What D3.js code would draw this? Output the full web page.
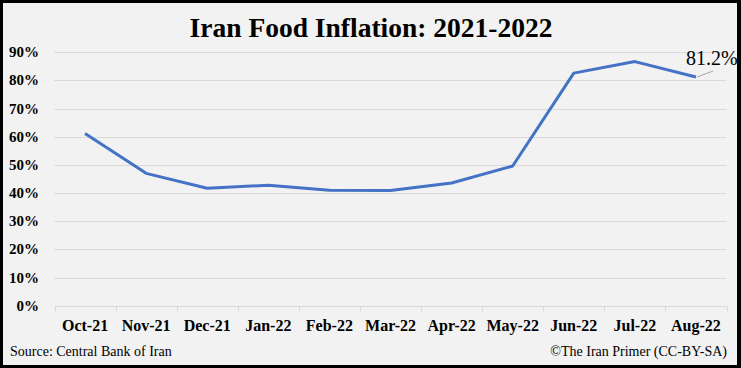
<!DOCTYPE html>
<html>
<head>
<meta charset="utf-8">
<script src="https://cdn.jsdelivr.net/npm/d3@7"></script>
<style>
  body { margin: 0; background: #fff; }
  svg { display: block; }
  text { font-family: "Liberation Serif", "DejaVu Serif", serif; }
</style>
</head>
<body>
<div id="chart"></div>
<script>
// Chart data
const months = ["Oct-21", "Nov-21", "Dec-21", "Jan-22", "Feb-22", "Mar-22", "Apr-22", "May-22", "Jun-22", "Jul-22", "Aug-22"];
const inflation = [61.2, 47.0, 41.7, 42.8, 41.0, 40.9, 43.6, 49.6, 82.6, 86.7, 81.2];
const yTicks = [0, 10, 20, 30, 40, 50, 60, 70, 80, 90];
const lastLabel = "81.2%";

const W = 741, H = 368;

const svg = d3.select("#chart").append("svg")
    .attr("width", W)
    .attr("height", H);

// background and frame
svg.append("rect")
    .attr("width", W).attr("height", H)
    .attr("fill", "#000");
svg.append("rect")
    .attr("x", 3).attr("y", 3)
    .attr("width", W - 3 - 4).attr("height", H - 3 - 3)
    .attr("fill", "#f2f2f2");

const x = d3.scaleBand()
    .domain(months)
    .range([54.5, 726.5]);

const y = d3.scaleLinear()
    .domain([0, 90])
    .range([305.7, 52.3]);

// gridlines
svg.append("g")
    .selectAll("line")
    .data(yTicks.filter(d => d > 0))
    .join("line")
    .attr("x1", 54.5).attr("x2", 726.5)
    .attr("y1", d => Math.round(y(d)) + 0.5)
    .attr("y2", d => Math.round(y(d)) + 0.5)
    .attr("stroke", "#d9d9d9")
    .attr("stroke-width", 1);

// y labels
svg.append("g")
    .selectAll("text")
    .data(yTicks)
    .join("text")
    .attr("x", 39)
    .attr("y", d => y(d) + 5)
    .attr("text-anchor", "end")
    .attr("font-size", 15)
    .attr("font-weight", "bold")
    .attr("fill", "#000")
    .text(d => d + "%");

// x axis
const xAxis = svg.append("g")
    .attr("transform", `translate(0,${Math.round(y(0)) + 0.5})`);
xAxis.append("line")
    .attr("x1", 54.5).attr("x2", 726.5)
    .attr("stroke", "#d9d9d9");
xAxis.selectAll(".tk")
    .data(months.concat(["end"]))
    .join("line")
    .attr("class", "tk")
    .attr("x1", (d, i) => Math.round(54.5 + i * x.step()) + 0.5)
    .attr("x2", (d, i) => Math.round(54.5 + i * x.step()) + 0.5)
    .attr("y1", 0).attr("y2", 5)
    .attr("stroke", "#d9d9d9");
xAxis.selectAll("text")
    .data(months)
    .join("text")
    .attr("x", d => x(d) + x.bandwidth() / 2)
    .attr("y", 24)
    .attr("text-anchor", "middle")
    .attr("font-size", 16)
    .attr("font-weight", "bold")
    .attr("fill", "#000")
    .text(d => d);

// line
const line = d3.line()
    .x((d, i) => x(months[i]) + x.bandwidth() / 2)
    .y(d => y(d));

svg.append("path")
    .datum(inflation)
    .attr("d", line)
    .attr("fill", "none")
    .attr("stroke", "#4472c4")
    .attr("stroke-width", 3)
    .attr("stroke-linejoin", "round");

// last value label with leader line
const lx = x(months[months.length - 1]) + x.bandwidth() / 2;
const ly = y(inflation[inflation.length - 1]);
svg.append("line")
    .attr("x1", lx + 1).attr("y1", ly)
    .attr("x2", lx + 17).attr("y2", ly - 6)
    .attr("stroke", "#a6a6a6")
    .attr("stroke-width", 1);
svg.append("text")
    .attr("x", 686)
    .attr("y", 65)
    .attr("font-size", 20)
    .attr("fill", "#000")
    .text(lastLabel);

// title
svg.append("text")
    .attr("x", 371)
    .attr("y", 37)
    .attr("text-anchor", "middle")
    .attr("font-size", 27.5)
    .attr("font-weight", "bold")
    .attr("fill", "#000")
    .text("Iran Food Inflation: 2021-2022");

// footer
svg.append("text")
    .attr("x", 10)
    .attr("y", 356)
    .attr("font-size", 14)
    .attr("fill", "#000")
    .text("Source:  Central Bank of Iran");
svg.append("text")
    .attr("x", 727)
    .attr("y", 356)
    .attr("text-anchor", "end")
    .attr("font-size", 14)
    .attr("fill", "#000")
    .text("©The Iran Primer (CC-BY-SA)");

// right edge of frame on top so the clipped label matches
svg.append("rect")
    .attr("x", W - 4).attr("y", 0)
    .attr("width", 4).attr("height", H)
    .attr("fill", "#000");
</script>
</body>
</html>
